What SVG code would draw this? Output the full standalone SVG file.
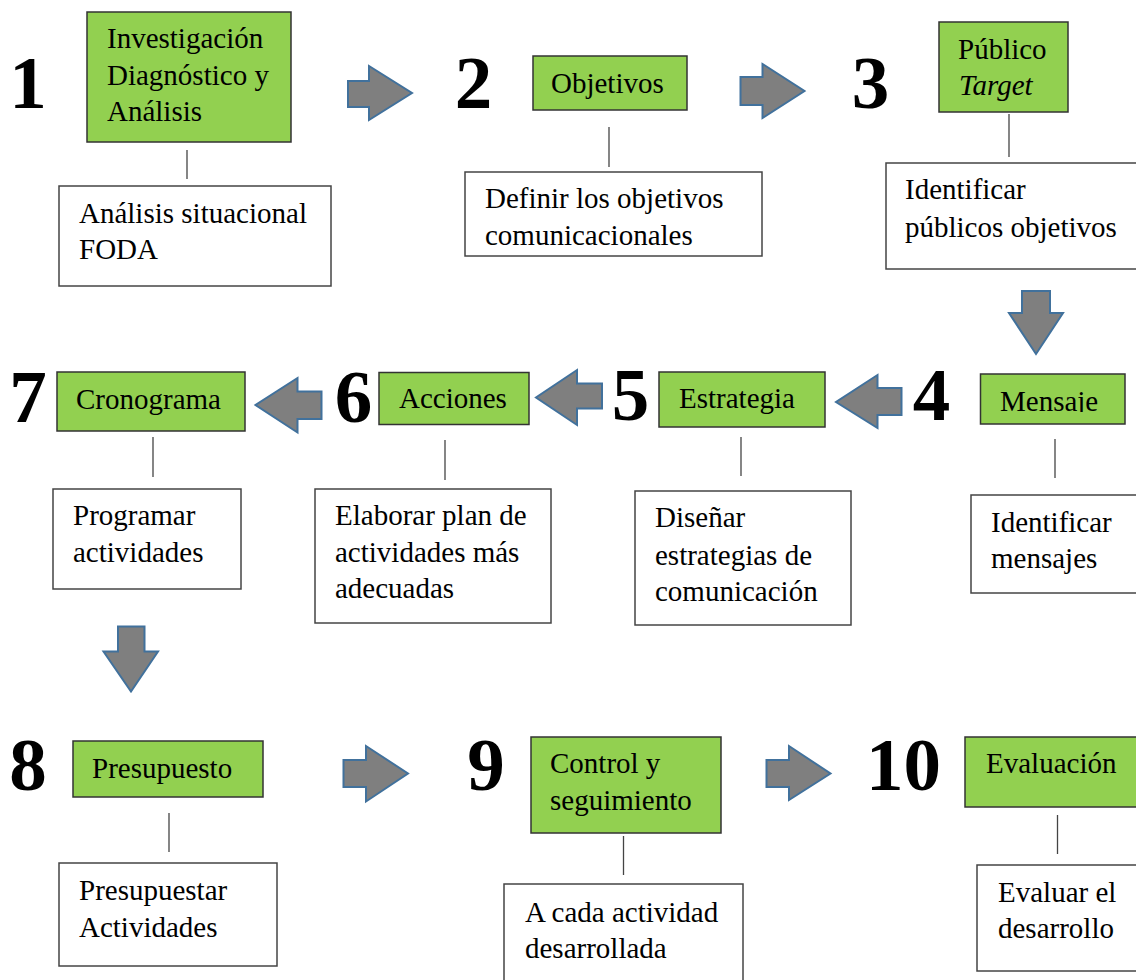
<svg xmlns="http://www.w3.org/2000/svg" width="1136" height="980" viewBox="0 0 1136 980">
<style>
text{font-family:"Liberation Serif","Times New Roman",serif;fill:#000}
.t{font-size:29px}
.n{font-size:75px;font-weight:bold;text-anchor:middle}
.g{fill:#92D050;stroke:#333;stroke-width:1.5}
.w{fill:#fff;stroke:#444;stroke-width:1.5}
.ln{stroke:#444;stroke-width:1.3;fill:none}
.ar{fill:#7F7F7F;stroke:#41719C;stroke-width:2;stroke-linejoin:miter}
</style>
<defs>
<clipPath id="clipMensaje"><rect x="980" y="374" width="146" height="38"/></clipPath>
</defs>
<rect width="1136" height="980" fill="#fff"/>

<g id="connectors">
<line class="ln" x1="187" y1="150" x2="187" y2="179"/>
<line class="ln" x1="609" y1="127" x2="609" y2="167"/>
<line class="ln" x1="1009" y1="114" x2="1009" y2="157"/>
<line class="ln" x1="1055" y1="439" x2="1055" y2="478"/>
<line class="ln" x1="741" y1="437" x2="741" y2="476"/>
<line class="ln" x1="445" y1="440" x2="445" y2="480"/>
<line class="ln" x1="153" y1="437" x2="153" y2="477"/>
<line class="ln" x1="169" y1="813" x2="169" y2="852"/>
<line class="ln" x1="623.5" y1="836" x2="623.5" y2="875"/>
<line class="ln" x1="1057.5" y1="815" x2="1057.5" y2="854"/>
<polygon class="ar" points="348,81 369,81 369,66 412,93 369,120 369,107 348,107"/>
<polygon class="ar" points="740.5,77 762.5,77 762.5,64 804.5,91 762.5,118 762.5,105 740.5,105"/>
<polygon class="ar" points="1022,291 1050,291 1050,313 1063,313 1036,354 1009,313 1022,313"/>
<polygon class="ar" points="901.5,388 877.5,388 877.5,375 836,402 877.5,428 877.5,415 901.5,415"/>
<polygon class="ar" points="602,383.5 577,383.5 577,370 536,397.5 577,425 577,408.5 602,408.5"/>
<polygon class="ar" points="321.5,391.5 297.5,391.5 297.5,378 255.5,405 297.5,432.5 297.5,419 321.5,419"/>
<polygon class="ar" points="118,626.5 144.5,626.5 144.5,651.5 158,651.5 131,691.5 103.5,651.5 118,651.5"/>
<polygon class="ar" points="343.5,760 366,760 366,746 408,773.5 366,801.5 366,787 343.5,787"/>
<polygon class="ar" points="766.5,760 789,760 789,746 830.5,773.5 789,800 789,787 766.5,787"/>
</g>

<g id="step1">
<text class="n" x="28" y="108">1</text>
<rect class="g" x="87" y="12" width="204" height="130"/>
<text class="t" x="107" y="48">Investigación</text>
<text class="t" x="107" y="84.5">Diagnóstico y</text>
<text class="t" x="107" y="121">Análisis</text>
</g>
<g id="note1">
<rect class="w" x="59" y="186" width="272" height="100"/>
<text class="t" x="79" y="222.5">Análisis situacional</text>
<text class="t" x="79" y="259">FODA</text>
</g>

<g id="step2">
<text class="n" x="473.5" y="108">2</text>
<rect class="g" x="533" y="56" width="154" height="54"/>
<text class="t" x="551" y="93">Objetivos</text>
</g>
<g id="note2">
<rect class="w" x="465" y="172" width="297" height="84"/>
<text class="t" x="485" y="208">Definir los objetivos</text>
<text class="t" x="485" y="245">comunicacionales</text>
</g>

<g id="step3">
<text class="n" x="870.5" y="108">3</text>
<rect class="g" x="939" y="22" width="129" height="90"/>
<text class="t" x="958" y="59">Público</text>
<text class="t" x="959" y="95" font-style="italic">Target</text>
</g>
<g id="note3">
<rect class="w" x="886" y="163" width="260" height="106"/>
<text class="t" x="905" y="199">Identificar</text>
<text class="t" x="905" y="236.5">públicos objetivos</text>
</g>

<g id="step4">
<text class="n" x="931.5" y="420">4</text>
<rect class="g" x="980.5" y="374" width="144.5" height="50"/>
<text class="t" x="1000" y="410.5" clip-path="url(#clipMensaje)">Mensaje</text>
</g>
<g id="note4">
<rect class="w" x="971" y="495" width="175" height="98"/>
<text class="t" x="991" y="531.5">Identificar</text>
<text class="t" x="991" y="568">mensajes</text>
</g>

<g id="step5">
<text class="n" x="630.5" y="420">5</text>
<rect class="g" x="659" y="372" width="166" height="55"/>
<text class="t" x="679" y="408">Estrategia</text>
</g>
<g id="note5">
<rect class="w" x="635" y="491" width="216" height="134"/>
<text class="t" x="655" y="527">Diseñar</text>
<text class="t" x="655" y="564.5">estrategias de</text>
<text class="t" x="655" y="600.5">comunicación</text>
</g>

<g id="step6">
<text class="n" x="353.5" y="421.5">6</text>
<rect class="g" x="379" y="372.5" width="150" height="52"/>
<text class="t" x="399" y="408">Acciones</text>
</g>
<g id="note6">
<rect class="w" x="315" y="489" width="236" height="134"/>
<text class="t" x="335" y="525">Elaborar plan de</text>
<text class="t" x="335" y="561.5">actividades más</text>
<text class="t" x="335" y="598">adecuadas</text>
</g>

<g id="step7">
<text class="n" x="28" y="421.5">7</text>
<rect class="g" x="57" y="372" width="188" height="59"/>
<text class="t" x="76" y="409">Cronograma</text>
</g>
<g id="note7">
<rect class="w" x="53" y="489" width="188" height="100"/>
<text class="t" x="73" y="525">Programar</text>
<text class="t" x="73" y="561.5">actividades</text>
</g>

<g id="step8">
<text class="n" x="28" y="790">8</text>
<rect class="g" x="73" y="741" width="190" height="56"/>
<text class="t" x="92" y="778">Presupuesto</text>
</g>
<g id="note8">
<rect class="w" x="59" y="863" width="218" height="103"/>
<text class="t" x="79" y="900">Presupuestar</text>
<text class="t" x="79" y="936.5">Actividades</text>
</g>

<g id="step9">
<text class="n" x="486" y="790">9</text>
<rect class="g" x="531" y="737" width="190" height="96"/>
<text class="t" x="550" y="773">Control y</text>
<text class="t" x="550" y="810">seguimiento</text>
</g>
<g id="note9">
<rect class="w" x="504" y="884" width="239" height="110"/>
<text class="t" x="525" y="921.5">A cada actividad</text>
<text class="t" x="525" y="958">desarrollada</text>
</g>

<g id="step10">
<text class="n" x="903.5" y="790">10</text>
<rect class="g" x="965" y="737" width="180" height="70"/>
<text class="t" x="986" y="773">Evaluación</text>
</g>
<g id="note10">
<rect class="w" x="977" y="865" width="170" height="106"/>
<text class="t" x="998" y="901.5">Evaluar el</text>
<text class="t" x="998" y="938">desarrollo</text>
</g>
</svg>
